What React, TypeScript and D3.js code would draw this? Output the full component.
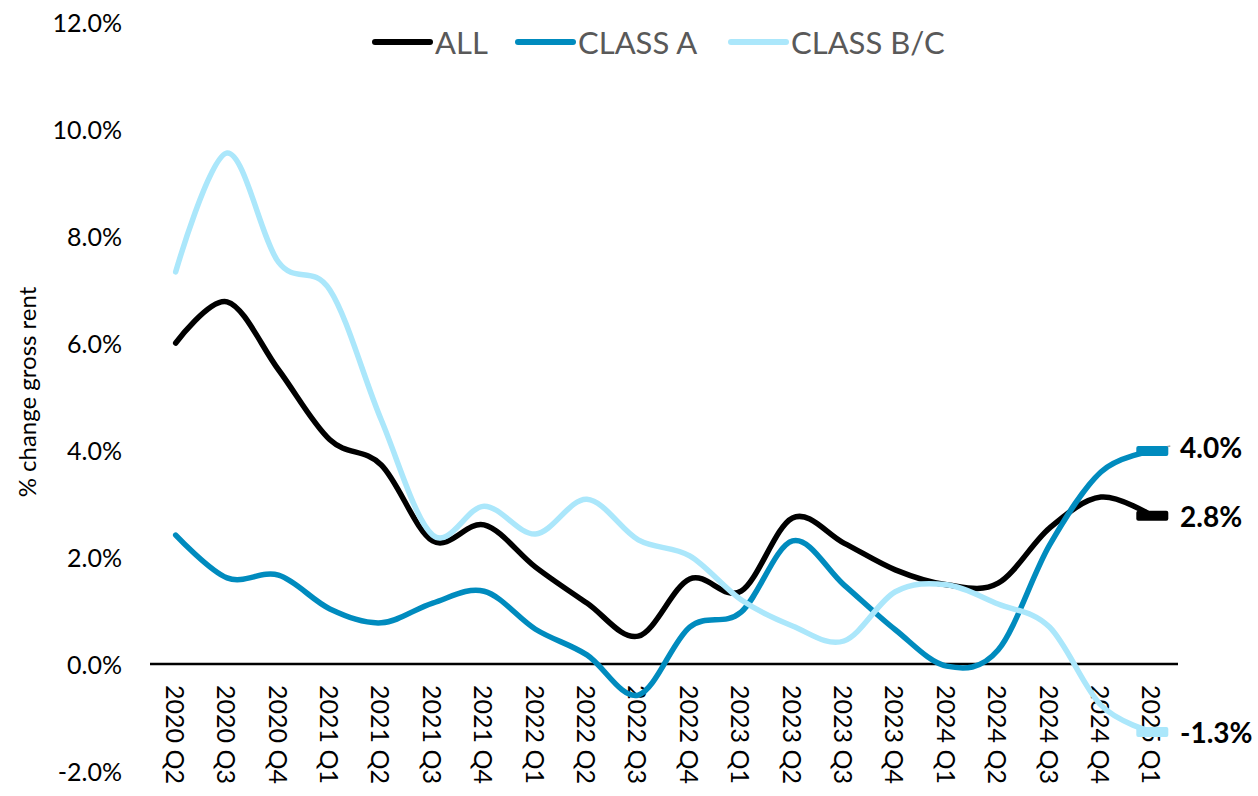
import React from 'react';
import * as d3 from 'd3';

const quarters = [
  '2020 Q2', '2020 Q3', '2020 Q4', '2021 Q1', '2021 Q2', '2021 Q3', '2021 Q4',
  '2022 Q1', '2022 Q2', '2022 Q3', '2022 Q4', '2023 Q1', '2023 Q2', '2023 Q3',
  '2023 Q4', '2024 Q1', '2024 Q2', '2024 Q3', '2024 Q4', '2025 Q1',
];

const allValues = [
  6.0, 6.77, 5.5, 4.19, 3.72, 2.3, 2.6, 1.81, 1.14, 0.52, 1.59, 1.36, 2.73, 2.26,
  1.76, 1.48, 1.51, 2.54, 3.12, 2.77,
];
const classAValues = [
  2.41, 1.61, 1.66, 1.03, 0.77, 1.14, 1.36, 0.65, 0.17, -0.58, 0.69, 0.97, 2.3,
  1.48, 0.64, -0.04, 0.26, 2.22, 3.59, 3.98,
];
const classBCValues = [
  7.33, 9.55, 7.51, 6.99, 4.56, 2.41, 2.95, 2.43, 3.08, 2.32, 2.02, 1.2, 0.71,
  0.43, 1.35, 1.48, 1.12, 0.69, -0.77, -1.27,
];

const yTicks = [-2, 0, 2, 4, 6, 8, 10, 12];

const series = [
  { name: 'ALL', values: allValues, color: '#000000', label: '2.8%', labelDy: 0 },
  { name: 'CLASS A', values: classAValues, color: '#008BBE', label: '4.0%', labelDy: -4 },
  { name: 'CLASS B/C', values: classBCValues, color: '#ABE7FB', label: '-1.3%', labelDy: 0 },
];

const App = () => {
  const W = 1258;
  const H = 796;
  const left = 150;
  const right = 1178;

  const x = d3.scaleBand().domain(quarters).range([left, right]);
  const y = d3.scaleLinear().domain([-2, 12]).range([771, 22]);
  const cx = (q: string) => (x(q) as number) + x.bandwidth() / 2;

  const line = d3
    .line<number>()
    .x((_, i) => cx(quarters[i]))
    .y(d => y(d))
    .curve(d3.curveCatmullRom.alpha(0));

  const tickFont = 'Lato, sans-serif';
  const last = quarters[quarters.length - 1];

  // legend layout
  const legend = [
    { name: 'ALL', color: '#000000', x0: 375 },
    { name: 'CLASS A', color: '#008BBE', x0: 518 },
    { name: 'CLASS B/C', color: '#ABE7FB', x0: 731 },
  ];

  return (
    <svg
      width={W}
      height={H}
      style={{ position: 'absolute', left: 0, top: 0, background: '#fff' }}
    >
      {/* y tick labels */}
      {yTicks.map(t => (
        <text
          key={t}
          x={122}
          y={y(t)}
          textAnchor="end"
          dominantBaseline="central"
          fontFamily={tickFont}
          fontSize={25}
          fill="#000"
        >
          {t.toFixed(1) + '%'}
        </text>
      ))}

      {/* y title */}
      <text
        transform={`translate(26,392) rotate(-90)`}
        textAnchor="middle"
        dominantBaseline="central"
        fontFamily={tickFont}
        fontSize={24}
        fill="#000"
      >
        % change gross rent
      </text>

      {/* zero axis */}
      <line x1={left} x2={right} y1={y(0)} y2={y(0)} stroke="#000" strokeWidth={2.5} />

      {/* x tick labels */}
      {quarters.map(q => (
        <text
          key={q}
          transform={`translate(${cx(q)},${y(0) + 21}) rotate(90)`}
          textAnchor="start"
          dominantBaseline="central"
          fontFamily={tickFont}
          fontSize={25}
          fill="#000"
        >
          {q}
        </text>
      ))}

      {/* lines */}
      {series.map(s => (
        <path
          key={s.name}
          d={line(s.values) || ''}
          fill="none"
          stroke={s.color}
          strokeWidth={5.5}
          strokeLinecap="round"
          strokeLinejoin="round"
        />
      ))}

      {/* end markers and labels */}
      {series.map(s => {
        const v = s.values[s.values.length - 1];
        const px = cx(last);
        const py = y(v);
        return (
          <g key={s.name + '-end'}>
            {s.name === 'CLASS A' && (
              <line x1={px} y1={py - 1} x2={px + 18} y2={py - 5} stroke="#A6A6A6" strokeWidth={1.5} />
            )}
            <rect x={px - 16} y={py - 5} width={32} height={10} rx={2} fill={s.color} />
            <text
              x={1180}
              y={py + s.labelDy}
              dominantBaseline="central"
              fontFamily={tickFont}
              fontWeight="bold"
              fontSize={28}
              fill="#000"
            >
              {s.label}
            </text>
          </g>
        );
      })}

      {/* legend */}
      {legend.map(l => (
        <g key={l.name}>
          <line x1={l.x0} x2={l.x0 + 55} y1={42} y2={42} stroke={l.color} strokeWidth={6} strokeLinecap="round" />
          <text
            x={l.x0 + 60}
            y={42}
            dominantBaseline="central"
            fontFamily={tickFont}
            fontSize={31}
            fill="#595959"
          >
            {l.name}
          </text>
        </g>
      ))}
    </svg>
  );
};

export default App;
